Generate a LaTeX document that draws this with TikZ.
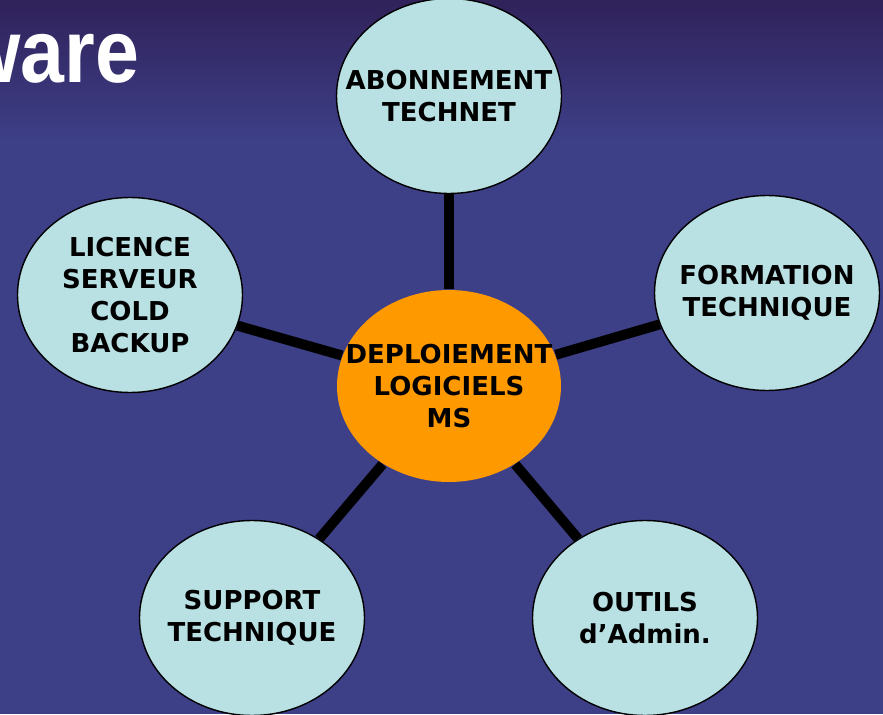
\documentclass[tikz,border=0pt]{standalone}
\usepackage{fontspec}
\setmainfont{DejaVu Sans}
\newfontfamily\titlefont[FakeStretch=0.88]{Liberation Sans}
\usetikzlibrary{shapes.geometric}

\definecolor{bgdark}{HTML}{30225A}
\definecolor{bgpurple}{HTML}{3A2A78}
\definecolor{bgblue}{HTML}{3D3F87}
\definecolor{bubblecyan}{HTML}{B9E1E4}
\definecolor{huborange}{HTML}{FF9900}

\pgfdeclarelayer{back}
\pgfdeclarelayer{links}
\pgfsetlayers{back,links,main}

\begin{document}
\begin{tikzpicture}[font=\bfseries]
	% --- Parametri ---
	\def\picW{17.66}
	\def\picH{14.28}
	
	% --- Stili ---
	\tikzset{
		bubble/.style={ellipse, draw=black, line width=0.8pt, fill=bubblecyan, minimum width=4.5cm, minimum height=3.9cm, inner sep=0pt},
		hub/.style={bubble, draw=none, fill=huborange, minimum width=4.48cm, minimum height=3.84cm},
		bubbletext/.style={inner sep=0pt, align=center, font=\fontsize{14.8}{18.1}\selectfont\bfseries},
		link/.style={draw=black, line width=5.7pt}
	}
	
	\useasboundingbox (0,0) rectangle (\picW,\picH);
	
	% --- Sfondo ---
	\begin{pgfonlayer}{back}
		\fill[bgblue] (0,0) rectangle (\picW,\picH);
		\shade[top color=bgdark, middle color=bgpurple, bottom color=bgblue] (0,\picH-2.8) rectangle (\picW,\picH);
	\end{pgfonlayer}
	
	% --- Titolo ---
	\begin{scope}
		\clip (0,0) rectangle (\picW,\picH);
		\node[anchor=base east, inner sep=0pt, text=white, font=\titlefont\fontsize{51}{51}\selectfont\bfseries] (title) at (2.79,\picH-1.66) {ware};
	\end{scope}
	
	% --- Nodi ---
	\node[hub] (hub) at (8.98,6.56) {};
	\node[bubble] (technet) at (8.98,12.36) {};
	\node[bubble] (licence) at (2.60,8.38) {};
	\node[bubble] (formation) at (15.34,8.42) {};
	\node[bubble] (support) at (5.04,1.92) {};
	\node[bubble] (outils) at (12.90,1.92) {};
	
	% --- Testi ---
	\node[bubbletext] (hubtext) at (hub) {DEPLOIEMENT\\LOGICIELS\\MS};
	\node[bubbletext] (technettext) at (technet) {ABONNEMENT\\TECHNET};
	\node[bubbletext] (licencetext) at (licence) {LICENCE\\SERVEUR\\COLD\\BACKUP};
	\node[bubbletext] (formationtext) at (formation) {FORMATION\\TECHNIQUE};
	\node[bubbletext] (supporttext) at (support) {SUPPORT\\TECHNIQUE};
	\node[bubbletext] (outilstext) at (outils) {OUTILS\\d’Admin.};
	
	% --- Collegamenti ---
	\begin{pgfonlayer}{links}
		\draw[link] (hub) -- (technet);
		\draw[link] (hub) -- (licence);
		\draw[link] (hub) -- (formation);
		\draw[link] (hub) -- (support);
		\draw[link] (hub) -- (outils);
	\end{pgfonlayer}
\end{tikzpicture}
\end{document}
